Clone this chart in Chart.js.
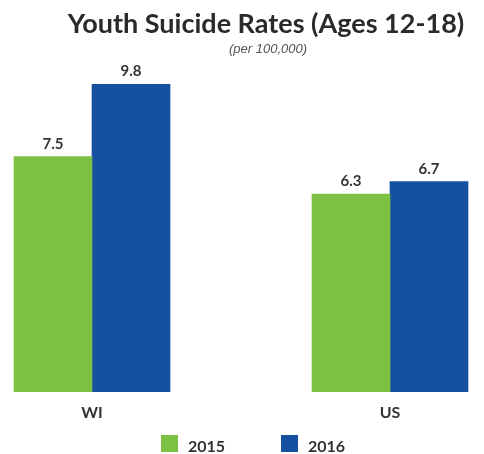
<!DOCTYPE html>
<html>
<head>
<meta charset="utf-8">
<title>Youth Suicide Rates (Ages 12-18)</title>
<script src="https://cdn.jsdelivr.net/npm/chart.js@4.4.1/dist/chart.umd.min.js"></script>
<style>
  html, body { margin: 0; padding: 0; background: #fff; }
  .wrap { position: relative; width: 484px; height: 454px; overflow: hidden; }
  .wrap canvas { position: absolute; left: 0; top: 0; }
  .title {
    position: absolute; left: 48px; right: 0; top: 9px;
    text-align: center; font: 700 27px/27px Lato, sans-serif; color: #2a2a2a;
  }
  .subtitle {
    position: absolute; left: 52px; right: 0; top: 42px;
    text-align: center; font: italic 13px/13px "Liberation Sans", Arial, sans-serif; color: #555;
  }
  .legend-item { position: absolute; top: 435px; height: 17px; }
  .legend-item .box { position: absolute; left: 0; top: 0; width: 17px; height: 17px; }
  .legend-item .label {
    position: absolute; left: 27px; top: 2px; white-space: nowrap;
    font: 700 16px/17px Lato, sans-serif; color: #333;
  }
</style>
</head>
<body>
<div class="wrap">
  <canvas id="chart" width="484" height="454"></canvas>
  <div class="title">Youth Suicide Rates (Ages 12-18)</div>
  <div class="subtitle">(per 100,000)</div>
  <div id="legend"></div>
</div>
<script>
const categories = ["WI", "US"];
const years = ["2015", "2016"];
const rates2015 = [7.5, 6.3];
const rates2016 = [9.8, 6.7];
const barColors = ["#7cc142", "#1650a0"];

const series = [rates2015, rates2016];

// value printed above each bar
const valueLabels = {
  id: "valueLabels",
  afterDatasetsDraw(chart) {
    const ctx = chart.ctx;
    ctx.save();
    ctx.font = "700 15px Lato, sans-serif";
    ctx.fillStyle = "#333";
    ctx.textAlign = "center";
    ctx.textBaseline = "alphabetic";
    chart.data.datasets.forEach((ds, i) => {
      chart.getDatasetMeta(i).data.forEach((bar, j) => {
        ctx.fillText(ds.data[j].y.toFixed(1), bar.x, bar.y - 8);
      });
    });
    ctx.restore();
  }
};

new Chart(document.getElementById("chart"), {
  type: "bar",
  data: {
    datasets: years.map((year, i) => ({
      label: year,
      data: series[i].map((v, j) => ({ x: j, y: v })),
      backgroundColor: barColors[i],
      borderWidth: 0,
      barThickness: 78
    }))
  },
  options: {
    responsive: false,
    animation: false,
    layout: { padding: { top: 78, bottom: 0, left: 0, right: 0 } },
    plugins: {
      legend: { display: false },
      title: { display: false },
      tooltip: { enabled: false }
    },
    scales: {
      x: {
        type: "linear",
        offset: false,
        min: -0.3087,
        max: 1.3154,
        grid: { display: false, drawTicks: false },
        border: { display: false },
        ticks: {
          stepSize: 1,
          includeBounds: false,
          maxRotation: 0,
          padding: 11,
          color: "#333",
          font: { family: "Lato", size: 16, weight: "700" },
          callback: (v) => categories[v] ?? ""
        },
        // leave room below the bars for the legend
        afterFit: (scale) => { scale.height = 62; }
      },
      y: {
        display: false,
        min: 0,
        max: 10
      }
    }
  },
  plugins: [valueLabels]
});

// legend under the plot
const legend = document.getElementById("legend");
const legendLeft = [161, 281];
years.forEach((year, i) => {
  const item = document.createElement("div");
  item.className = "legend-item";
  item.style.left = legendLeft[i] + "px";
  item.innerHTML = '<span class="box" style="background:' + barColors[i] + '"></span>' +
    '<span class="label">' + year + "</span>";
  legend.appendChild(item);
});
</script>
</body>
</html>
